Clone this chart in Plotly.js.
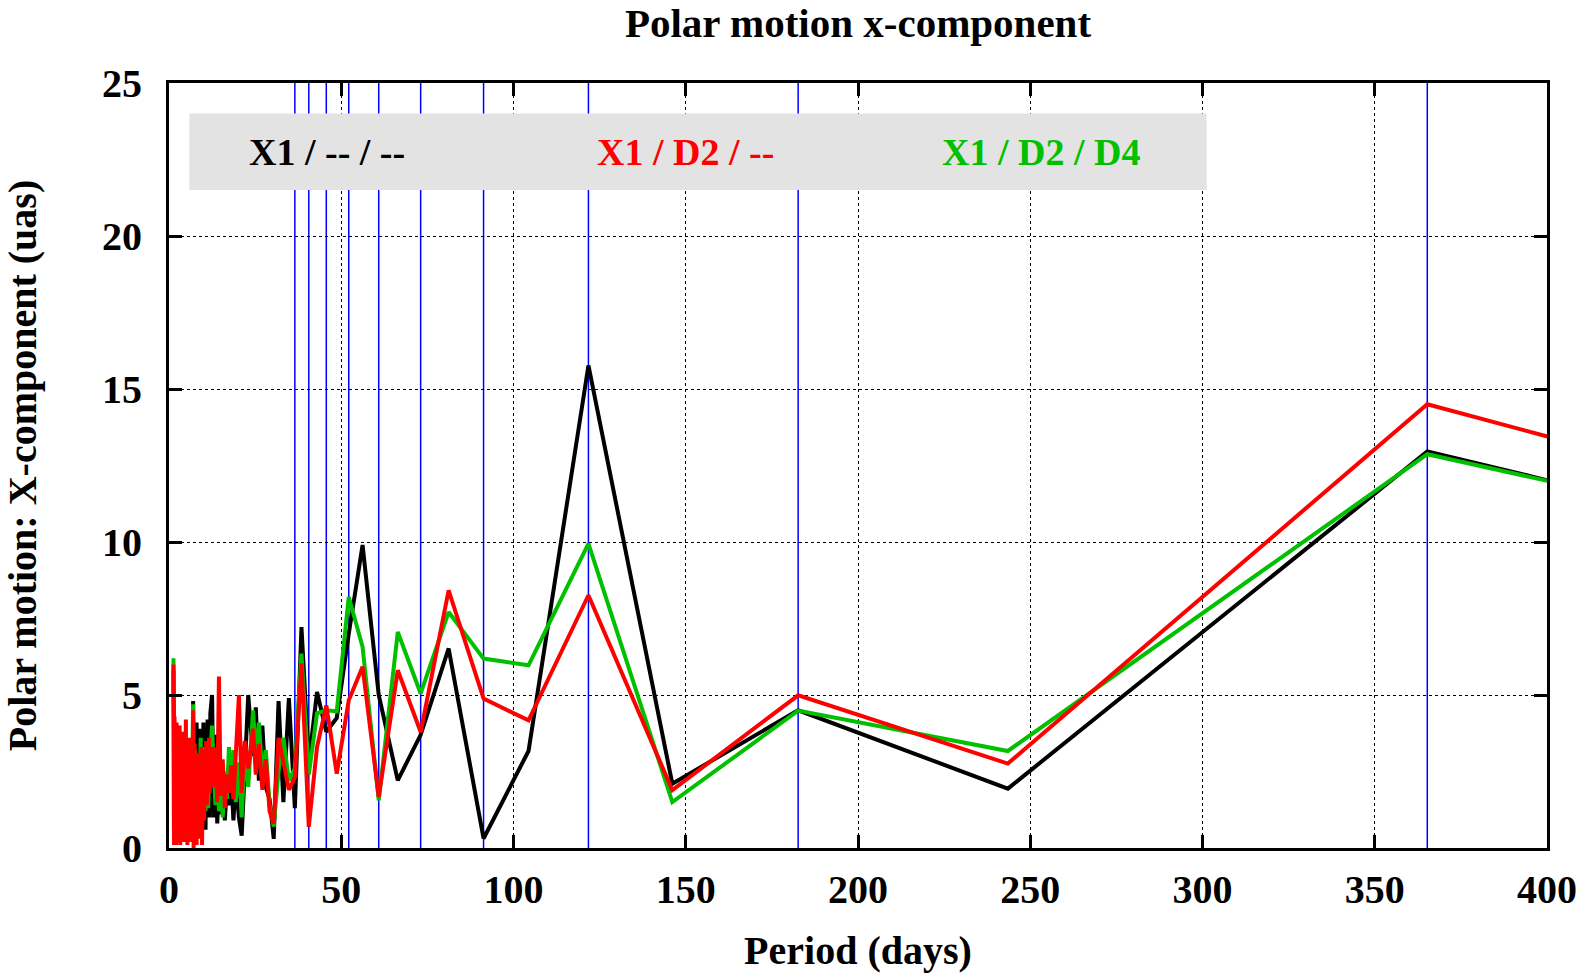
<!DOCTYPE html>
<html>
<head>
<meta charset="utf-8">
<script src="https://cdn.plot.ly/plotly-3.0.1.min.js"></script>
<style>html,body{margin:0;padding:0;background:#fff;}#chart{width:1593px;height:973px;}</style>
</head>
<body>
<div id="chart"></div>
<script>
// Periods (days) of the short-period, noisy part of the spectrum
const noisePeriods = [1.3, 1.45, 1.6, 1.75, 1.9, 2.05, 2.2, 2.35, 2.5, 2.65, 2.8, 2.95, 3.1, 3.25, 3.4, 3.55, 3.7, 3.85, 4.0, 4.15,
  4.3, 4.45, 4.6, 4.75, 4.9, 5.05, 5.2, 5.35, 5.5, 5.65, 5.8, 5.95, 6.1, 6.25, 6.4, 6.55, 6.7, 6.85, 7.0, 7.15,
  7.3, 7.45, 7.6, 7.8, 8.0, 8.2, 8.4, 8.6, 8.8, 9.0, 9.2, 9.4, 9.6, 9.8, 10.0, 10.2, 10.4, 10.6, 10.8, 11.0,
  11.2, 11.4, 11.6, 11.8, 12.0,
  12.5, 13.0, 13.5, 14.0, 14.5, 15.0, 15.6, 16.2, 16.8, 17.4, 18.0, 18.7, 19.4, 20.3, 21.1, 22.0, 23.0, 24.4, 25.2, 26.1,
  27.1, 28.1, 29.2, 30.4, 31.8, 33.2, 34.8];
// Periods (days) of the longer-period part
const mainPeriods = [36.53, 38.45, 40.58, 42.97, 45.66, 48.7, 52.18, 56.19, 60.88, 66.41, 73.05, 81.17, 91.31,
  104.36, 121.75, 146.1, 182.63, 243.5, 365.25, 730.5];

// Amplitudes (uas)
const blackNoise = [5.8, 1.0, 4.2, 0.4, 3.5, 0.8, 4.0, 1.2, 3.0, 0.3, 2.6, 1.5, 3.8, 0.9, 2.9, 1.6, 3.3, 0.6, 2.5, 1.8,
  3.6, 0.9, 2.2, 1.4, 3.1, 0.7, 2.7, 1.9, 3.4, 0.8, 2.4, 1.3, 3.2, 0.5, 2.6, 1.6, 3.0, 1.1, 4.8, 2.4,
  3.2, 1.7, 2.8, 1.2, 4.1, 2.0, 3.3, 0.9, 3.9, 0.4, 2.8, 1.5, 3.6, 2.1, 4.1, 1.2, 3.5, 0.6, 3.0, 1.5,
  4.2, 2.3, 3.7, 1.0, 4.4,
  5.0, 1.0, 3.7, 0.8, 2.2, 1.1, 2.6, 0.9, 2.0, 1.4, 2.4, 0.9, 2.2, 1.0, 0.4, 2.5, 5.0, 3.0, 4.6, 2.2,
  4.0, 2.0, 1.6, 0.3, 4.8, 1.5, 4.9];
const blackMain = [1.3, 7.22, 2.8, 5.1, 3.8, 4.25, 7.0, 9.9, 5.0, 2.21, 3.7, 6.52, 0.31,
  3.17, 15.77, 2.1, 4.5, 1.94, 12.96, 3.08];

const redNoise = [6.0, 0.1, 4.3, 0.4, 3.2, 0.1, 4.1, 0.6, 3.4, 0.2, 2.9, 0.8, 4.0, 0.1, 2.5, 1.2, 3.8, 0.3, 2.6, 0.9,
  3.5, 0.2, 3.1, 1.1, 4.2, 0.5, 2.7, 0.1, 3.3, 1.4, 2.4, 0.6, 3.6, 0.9, 2.8, 0.2, 3.0, 1.5, 4.5, 0.0,
  2.2, 3.4, 0.5, 2.9, 0.1, 2.6, 1.7, 3.1, 0.3, 2.4, 1.2, 3.3, 0.1, 2.2, 3.2, 0.9, 2.8, 1.6, 3.5, 1.4,
  2.9, 1.9, 3.6, 1.8, 2.5,
  3.3, 2.0, 3.3, 1.5, 5.6, 1.7, 2.9, 1.3, 2.4, 1.8, 2.7, 1.6, 3.2, 5.0, 1.8, 3.5, 2.6, 3.9, 2.4, 3.4,
  1.9, 2.9, 1.2, 0.8, 3.6, 2.8, 1.9];
const redMain = [2.3, 6.03, 0.69, 3.3, 4.66, 2.43, 4.83, 5.92, 1.67, 5.81, 3.79, 8.42, 4.88,
  4.17, 8.26, 1.89, 4.99, 2.76, 14.5, 3.47];

const greenNoise = [6.2, 0.3, 3.1, 0.2, 2.8, 0.6, 3.6, 0.3, 2.3, 1.0, 3.2, 0.4, 2.5, 1.3, 3.3, 0.8, 2.1, 1.2, 2.9, 0.5,
  2.6, 1.0, 3.4, 0.7, 2.4, 1.3, 3.0, 0.4, 2.7, 1.6, 3.1, 0.8, 2.3, 1.2, 3.3, 0.6, 2.9, 1.4, 4.7, 0.7,
  2.5, 1.3, 3.2, 0.9, 2.8, 1.1, 2.4, 1.6, 3.0, 2.0, 3.6, 1.5, 2.2, 1.0, 2.8, 1.7, 3.3, 1.2, 2.6, 2.0,
  3.1, 1.3, 2.7, 2.2, 3.0,
  4.0, 2.5, 1.4, 2.8, 1.2, 2.3, 1.0, 2.5, 1.6, 3.3, 1.8, 3.2, 1.5, 2.8, 1.0, 3.1, 2.0, 4.5, 3.0, 4.1,
  2.4, 3.2, 1.4, 0.7, 2.5, 3.6, 2.2];
const greenMain = [2.6, 6.35, 2.4, 4.4, 4.5, 4.47, 8.2, 6.57, 1.56, 7.06, 5.05, 7.71, 6.19,
  5.97, 9.95, 1.5, 4.49, 3.17, 12.87, 3.73];

// Harmonics of the annual period (365.25/n days), drawn as blue vertical lines
const harmonicPeriods = [365.25, 182.63, 121.75, 91.31, 73.05, 60.88, 52.18, 45.66, 40.58, 36.53];

const seriesNames = ['X1 / -- / --', 'X1 / D2 / --', 'X1 / D2 / D4'];
const xTicks = [0, 50, 100, 150, 200, 250, 300, 350, 400];
const yTicks = [0, 5, 10, 15, 20, 25];

const periods = noisePeriods.concat(mainPeriods);
const FONT = 'Liberation Serif, Times New Roman, serif';
const colors = ['#000000', '#ff0000', '#00c000'];

function mk(name, vals, color) {
  return {x: periods, y: vals, name: name, type: 'scatter', mode: 'lines',
          line: {color: color, width: 4}, hoverinfo: 'x+y'};
}
const traces = [
  mk(seriesNames[0], blackNoise.concat(blackMain), colors[0]),
  mk(seriesNames[2], greenNoise.concat(greenMain), colors[2]),
  mk(seriesNames[1], redNoise.concat(redMain), colors[1])
];

const shapes = harmonicPeriods.map(p => ({
  type: 'line', xref: 'x', yref: 'paper', x0: p, x1: p, y0: 0, y1: 1,
  line: {color: '#0000ff', width: 1.5}, layer: 'between'
}));
// grey key box
shapes.push({type: 'rect', xref: 'x', yref: 'y', x0: 5.9, x1: 301.2, y0: 21.5, y1: 24.0,
  fillcolor: '#e3e3e3', line: {width: 0}, layer: 'between'});

const keyX = [46, 150, 253];
const annotations = seriesNames.map((s, i) => ({
  xref: 'x', yref: 'y', x: keyX[i], y: 22.75, text: '<b>' + s + '</b>', showarrow: false,
  font: {family: FONT, size: 38, color: colors[i]}, xanchor: 'center', yanchor: 'middle'
}));

const axisCommon = {
  showline: true, linecolor: '#000', linewidth: 3, mirror: 'ticks',
  ticks: 'inside', ticklen: 13, tickwidth: 3, tickcolor: '#000',
  showgrid: true, gridcolor: '#000', gridwidth: 1, griddash: 'dot',
  zeroline: false,
  tickfont: {family: FONT, size: 40, color: '#000', weight: 'bold'},
};

const layout = {
  width: 1593, height: 973,
  margin: {l: 169, r: 46, t: 83, b: 125},
  paper_bgcolor: '#fff', plot_bgcolor: '#fff',
  showlegend: false,
  title: {text: '<b>Polar motion x-component</b>', x: 0.5, xref: 'paper', y: 0.977, yref: 'container',
          yanchor: 'middle', xanchor: 'center', font: {family: FONT, size: 41, color: '#000'}},
  xaxis: Object.assign({}, axisCommon, {
    range: [0, 400], tickvals: xTicks, ticktext: xTicks.map(String), ticklabelstandoff: 4,
    title: {text: '<b>Period (days)</b>', font: {family: FONT, size: 40, color: '#000'}, standoff: 34}
  }),
  yaxis: Object.assign({}, axisCommon, {
    range: [0, 25], tickvals: yTicks, ticktext: yTicks.map(String), ticklabelstandoff: 16,
    title: {text: '<b>Polar motion: X-component (uas)</b>', font: {family: FONT, size: 40, color: '#000'}, standoff: 54}
  }),
  shapes: shapes,
  annotations: annotations
};

Plotly.newPlot('chart', traces, layout, {displayModeBar: false, staticPlot: true});
</script>
</body>
</html>
